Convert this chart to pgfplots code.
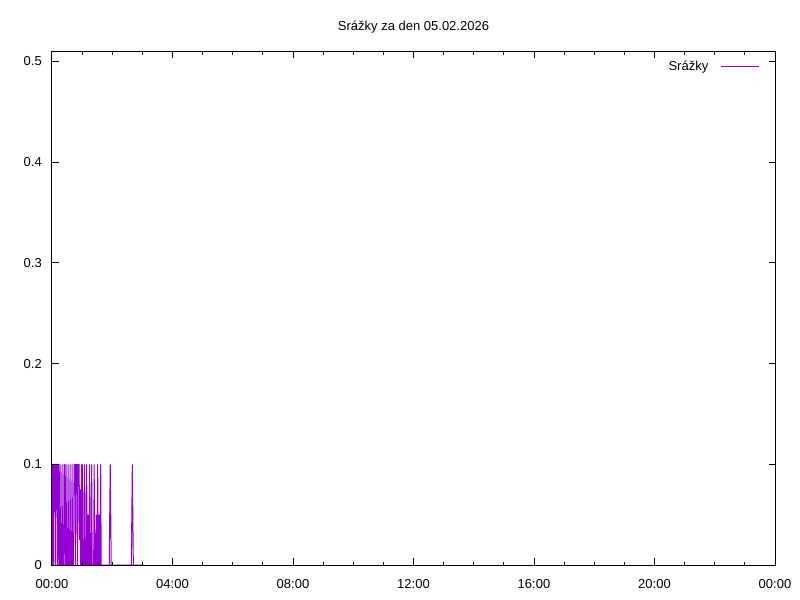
\documentclass[border=0pt]{standalone}
\usepackage{pgfplots}
\pgfplotsset{compat=1.18}
\usepackage{fontspec}
\setmainfont{Liberation Sans}
\definecolor{gpviolet}{HTML}{9400D3}
\begin{document}
\fontsize{13bp}{15bp}\selectfont
\begin{tikzpicture}
\path[use as bounding box] (0,0) rectangle (800bp,600bp);
\begin{axis}[
  at={(52bp,35bp)}, anchor=south west,
  scale only axis, width=723bp, height=513bp,
  xmin=0, xmax=1440, ymin=0, ymax=0.5094,
  axis on top,
  axis line style={line width=1bp, black},
  every tick/.style={line width=1bp, black},
  major tick length=6.5bp, minor tick length=3.3bp,
  tick align=inside,
  xtick={0,240,480,720,960,1200,1440},
  xticklabels={00:00,04:00,08:00,12:00,16:00,20:00,00:00},
  minor x tick num=3,
  ytick={0,0.1,0.2,0.3,0.4,0.5},
  yticklabels={0,0.1,0.2,0.3,0.4,0.5},
  xticklabel style={anchor=base, yshift=-23bp, inner sep=0pt, font=\fontsize{13bp}{15bp}\selectfont},
  yticklabel style={anchor=east, inner sep=0pt, xshift=-10bp, font=\fontsize{13bp}{15bp}\selectfont},
  title={Srážky za den 05.02.2026},
  title style={at={(0.5,1)}, anchor=base, yshift=16bp, inner sep=0pt, font=\fontsize{13bp}{15bp}\selectfont},
  legend plot pos=right,
  legend style={draw=none, fill=none, at={(1,1)}, anchor=north east, xshift=-15bp, yshift=-7.5bp, inner sep=0pt, font=\fontsize{13bp}{15bp}\selectfont, nodes={inner sep=1.5bp}},
  legend image code/.code={\draw[#1] (0bp,0bp) -- (38bp,0bp);},
]
\addplot[gpviolet, line width=1bp] coordinates {
(0,0) (1,0.1) (2,0.1) (3,0) (4,0.1) (5,0.1) (6,0.1) (7,0) (8,0.1) (9,0.1)
(10,0.1) (11,0) (12,0.1) (13,0.1) (14,0) (15,0) (16,0.1) (17,0) (18,0) (19,0)
(20,0.1) (21,0) (22,0) (23,0) (24,0.1) (25,0.1) (26,0) (27,0) (28,0.1) (29,0)
(30,0) (31,0) (32,0.1) (33,0) (34,0) (35,0) (36,0.1) (37,0) (38,0) (39,0)
(40,0.1) (41,0) (42,0) (43,0) (44,0.1) (45,0.1) (46,0.1) (47,0) (48,0.1) (49,0.1)
(50,0.1) (51,0) (52,0.1) (53,0.1) (54,0.1) (55,0.025) (56,0.075) (57,0) (58,0) (59,0.1)
(60,0) (61,0.1) (62,0) (64,0) (65,0.1) (66,0) (68,0) (69,0.1) (70,0) (71,0)
(72,0.05) (73,0) (74,0) (75,0.1) (76,0) (78,0) (79,0.1) (80,0) (83,0) (84,0.1)
(85,0) (87,0) (88,0.05) (89,0) (90,0) (91,0.1) (92,0) (93,0) (94,0.05) (95,0)
(96,0) (97,0.1) (98,0) (114,0) (116,0.1) (118,0) (158,0) (160,0.1) (162,0) (180,0)
};
\addlegendentry{Srážky\hspace*{11bp}\null}
\end{axis}
\end{tikzpicture}
\end{document}
